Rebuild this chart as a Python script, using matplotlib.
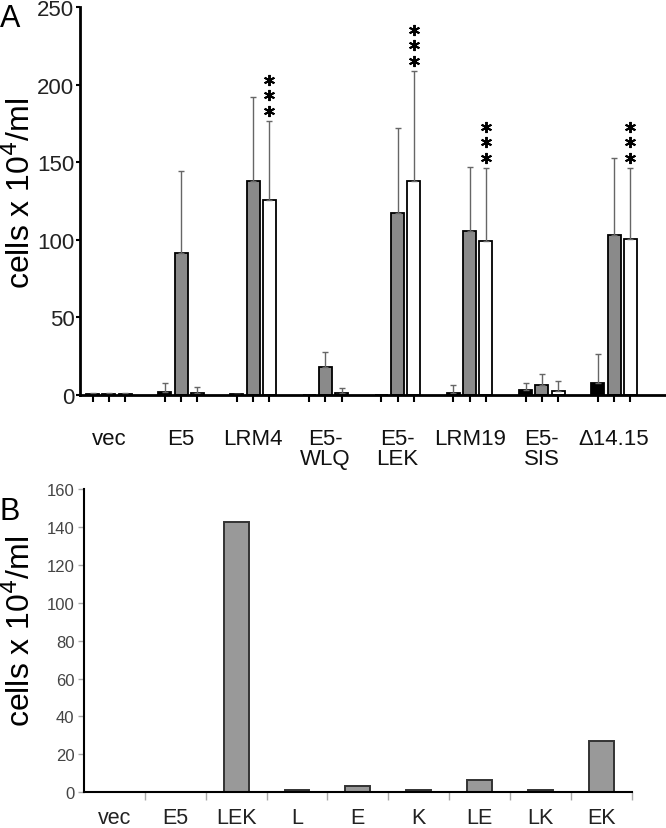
import numpy as np
import matplotlib
matplotlib.use('Agg')
import matplotlib.pyplot as plt
from matplotlib.transforms import offset_copy

plt.rcParams['font.family'] = ['Liberation Sans', 'DejaVu Sans']

# panel A data (cells x 10^4/ml)
groups_a = ['vec', 'E5', 'LRM4', 'E5-\nWLQ', 'E5-\nLEK', 'LRM19', 'E5-\nSIS', '\u039414.15']
black_vals = [0.5, 2.0, 0.5, 0.0, 0.0, 1.5, 3.2, 7.7]
black_err = [0.8, 6.0, 0.0, 0.0, 0.0, 4.9, 4.8, 18.7]
gray_vals = [0.5, 91.5, 138.0, 17.8, 117.3, 105.5, 6.6, 103.3]
gray_err = [0.8, 53.0, 54.0, 9.7, 54.5, 41.5, 7.1, 49.7]
white_vals = [0.5, 1.0, 125.6, 1.0, 137.7, 99.0, 2.8, 100.5]
white_err = [0.8, 4.0, 51.0, 3.3, 71.3, 47.5, 6.2, 46.0]
star_groups = ['LRM4', 'E5-\nLEK', 'LRM19', '\u039414.15']

# panel B data
groups_b = ['vec', 'E5', 'LEK', 'L', 'E', 'K', 'LE', 'LK', 'EK']
vals_b = [0.3, 0.3, 142.8, 1.4, 3.2, 1.1, 6.6, 1.4, 27.0]

fig = plt.figure(figsize=(6.66, 8.29), dpi=100)

# ---- panel A ----
ax = fig.add_axes([0.1201, 0.5223, 0.8799, 0.468])
x = np.arange(len(groups_a))
off = 0.225
w = 0.18
ekw = dict(ecolor='#666666', elinewidth=1.0, capsize=2.5, capthick=1.0)
series = [(black_vals, black_err, 'black', -off),
          (gray_vals, gray_err, '#8a8a8a', 0.0),
          (white_vals, white_err, 'white', off)]
for vals, errs, col, dx in series:
    ax.bar(x + dx, vals, w, color=col, edgecolor='black', linewidth=1.3,
           yerr=[np.zeros(len(errs)), errs], error_kw=ekw, zorder=2)

for g in star_groups:
    i = groups_a.index(g)
    top = white_vals[i] + white_err[i]
    for dy in (10, 25.5, 41):
        tr = offset_copy(ax.transData, fig=fig, y=dy, units='dots')
        ax.plot(i + off, top, marker=(6, 2, 0), markersize=8, color='black',
                markeredgewidth=1.4, transform=tr, clip_on=False)

ax.set_xlim(-0.4, 7.72)
ax.set_ylim(0, 250)
ax.set_yticks([0, 50, 100, 150, 200, 250])
ax.set_xticks(np.concatenate([x - off, x, x + off]))
ax.set_xticklabels([])
# group labels (ticks sit under every bar, labels under group centres)
lab_tr = offset_copy(ax.get_xaxis_transform(), fig=fig, y=-33, units='dots')
for i, g in enumerate(groups_a):
    ax.text(i, 0, g, transform=lab_tr, ha='center', va='top', fontsize=16,
            linespacing=0.95, color='#111111')
ax.tick_params(axis='x', which='major', length=5, width=1.5, direction='out')
ax.tick_params(axis='y', length=3, width=1.5, pad=1, labelsize=16, labelcolor='#222222')
for s in ['top', 'right']:
    ax.spines[s].set_visible(False)
for s in ['left', 'bottom']:
    ax.spines[s].set_linewidth(2)
ax.set_ylabel('cells x 10$^{4}$/ml', fontsize=23)
ax.yaxis.set_label_coords(-0.074, 0.523)
fig.text(0.0, 0.995, 'A', fontsize=22, va='top', ha='left')

# ---- panel B ----
bx = fig.add_axes([0.1261, 0.0431, 0.8224, 0.3659])
xb = np.arange(len(groups_b))
bx.bar(xb, vals_b, 0.41, color='#999999', edgecolor='#333333', linewidth=1.4, zorder=2)
bx.set_xlim(-0.5, 8.5)
bx.set_ylim(0, 160)
bx.set_yticks(range(0, 161, 20))
bx.set_xticks(np.arange(0.5, 8.6, 1.0))
bx.set_xticklabels([])
lab_trb = offset_copy(bx.get_xaxis_transform(), fig=fig, y=-15, units='dots')
for i, g in enumerate(groups_b):
    bx.text(i, 0, g, transform=lab_trb, ha='center', va='top', fontsize=15.5,
            color='#222222')
bx.tick_params(axis='x', which='major', length=6, width=1, color='#aaaaaa', direction='out')
bx.tick_params(axis='y', length=4, width=1, color='#aaaaaa', pad=3, labelsize=12,
               labelcolor='#444444')
for s in ['top', 'right']:
    bx.spines[s].set_visible(False)
for s in ['left', 'bottom']:
    bx.spines[s].set_linewidth(1.5)
bx.set_ylabel('cells x 10$^{4}$/ml', fontsize=23)
bx.yaxis.set_label_coords(-0.085, 0.535)
fig.text(0.0, 0.4, 'B', fontsize=22, va='top', ha='left')

fig.savefig('out.png', dpi=100)
